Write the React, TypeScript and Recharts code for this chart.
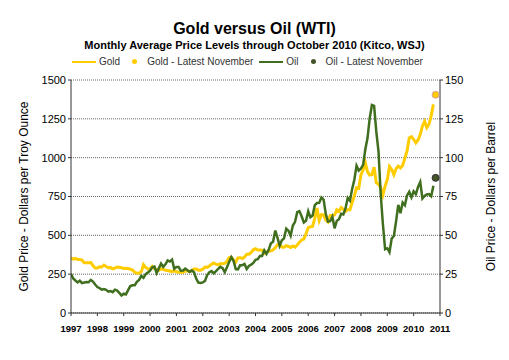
import React from "react";
import {
  ComposedChart,
  Line,
  Scatter,
  XAxis,
  YAxis,
  CartesianGrid,
} from "recharts";

// Monthly averages, Jan 1997 .. Oct 2010
const goldPrices = [
  355, 347, 352, 344, 344, 341, 324, 324, 323, 325, 306, 289,
  289, 297, 296, 308, 299, 292, 293, 284, 289, 296, 294, 291,
  287, 288, 286, 282, 277, 262, 256, 257, 265, 311, 293, 283,
  285, 300, 286, 280, 275, 285, 282, 275, 273, 270, 266, 272,
  265, 262, 263, 261, 272, 270, 268, 273, 283, 283, 276, 276,
  282, 296, 294, 302, 314, 322, 314, 310, 319, 317, 319, 333,
  357, 359, 340, 328, 355, 356, 351, 360, 379, 379, 389, 407,
  414, 405, 406, 404, 383, 392, 398, 400, 406, 420, 439, 442,
  424, 423, 434, 429, 422, 431, 424, 438, 456, 470, 476, 510,
  549, 555, 557, 610, 676, 596, 633, 632, 598, 586, 628, 629,
  631, 665, 655, 679, 667, 655, 665, 665, 712, 754, 806, 803,
  889, 922, 968, 909, 888, 890, 939, 839, 829, 806, 760, 816,
  858, 943, 924, 890, 928, 946, 934, 949, 996, 1043, 1127, 1135,
  1118, 1095, 1114, 1149, 1204, 1233, 1193, 1215, 1271, 1343,
];

const oilPrices = [
  25.2, 22.2, 20.9, 19.7, 20.8, 19.2, 19.6, 19.9, 19.8, 21.3, 20.2, 18.3,
  16.7, 16.1, 15.0, 15.4, 14.9, 13.7, 14.1, 13.4, 15.0, 14.4, 12.9, 11.3,
  12.5, 12.0, 14.7, 17.3, 17.8, 17.9, 20.1, 21.3, 23.9, 22.6, 25.0, 26.1,
  27.2, 29.4, 29.9, 25.7, 28.8, 31.8, 29.7, 31.3, 33.9, 33.1, 34.4, 28.5,
  29.6, 29.6, 27.2, 27.4, 28.6, 27.6, 26.4, 27.4, 26.2, 22.2, 19.6, 19.3,
  19.7, 20.7, 24.4, 26.3, 27.0, 25.5, 26.9, 28.4, 29.7, 28.9, 26.3, 29.4,
  32.9, 35.9, 33.6, 28.3, 28.1, 30.7, 30.8, 31.6, 28.3, 30.3, 31.1, 32.2,
  34.3, 34.7, 36.7, 36.7, 40.3, 38.0, 40.7, 44.9, 45.9, 53.1, 48.5, 43.3,
  46.8, 48.0, 54.3, 53.0, 49.8, 56.3, 58.7, 64.9, 65.6, 62.3, 58.3, 59.4,
  65.5, 61.6, 62.7, 69.4, 70.8, 70.9, 74.4, 73.0, 63.8, 58.9, 59.1, 62.0,
  54.5, 59.3, 60.4, 63.9, 63.4, 67.5, 74.1, 72.4, 79.9, 85.8, 94.8, 91.7,
  93.0, 95.4, 105.4, 112.6, 125.4, 133.9, 133.4, 116.7, 104.1, 76.6, 57.3, 41.1,
  41.7, 39.1, 47.9, 49.6, 59.0, 69.6, 64.2, 71.1, 69.4, 75.7, 78.0, 74.5,
  78.3, 76.4, 81.2, 84.3, 73.7, 75.3, 76.3, 76.6, 75.2, 81.9,
];

const goldNovember = 1405;
const oilNovember = 87;
const novemberX = 2010 + 10 / 12;

const yearTicks = [
  1997, 1998, 1999, 2000, 2001, 2002, 2003, 2004, 2005, 2006, 2007, 2008,
  2009, 2010, 2011,
];
const goldTicks = [0, 250, 500, 750, 1000, 1250, 1500];
const oilTicks = [0, 25, 50, 75, 100, 125, 150];

const GOLD = "#FFCC00";
const OIL = "#3F6E1E";

const chartData = goldPrices.map((g, i) => ({
  x: 1997 + i / 12,
  gold: g,
  oil: oilPrices[i],
}));

const font = "Arial, 'Liberation Sans', sans-serif";

function LegendItem({ kind, color, label }: { kind: string; color: string; label: string }) {
  return (
    <div style={{ display: "flex", alignItems: "center", marginRight: 6 }}>
      {kind === "line" ? (
        <span style={{ display: "inline-block", width: 24, height: 2, background: color, marginRight: 3 }} />
      ) : (
        <span
          style={{
            display: "inline-block",
            width: 5,
            height: 5,
            borderRadius: 3,
            background: color,
            marginLeft: 6,
            marginRight: 10,
          }}
        />
      )}
      <span>{label}</span>
    </div>
  );
}

export default function App() {
  return (
    <div style={{ position: "absolute", left: 0, top: 0, width: 509, height: 360, background: "#fff", fontFamily: font }}>
      <div style={{ position: "absolute", left: 0, top: 20, width: 509, textAlign: "center", fontSize: 16, fontWeight: "bold", color: "#000" }}>
        Gold versus Oil (WTI)
      </div>
      <div style={{ position: "absolute", left: 0, top: 39, width: 509, textAlign: "center", fontSize: 11, fontWeight: "bold", color: "#000" }}>
        Monthly Average Price Levels through October 2010 (Kitco, WSJ)
      </div>
      <div
        style={{
          position: "absolute",
          left: 72,
          top: 56,
          display: "flex",
          fontSize: 10,
          color: "#333",
        }}
      >
        <LegendItem kind="line" color={GOLD} label="Gold" />
        <LegendItem kind="dot" color={GOLD} label="Gold - Latest November" />
        <LegendItem kind="line" color={OIL} label="Oil" />
        <LegendItem kind="dot" color="#44552A" label="Oil - Latest November" />
      </div>
      <ComposedChart
        width={509}
        height={360}
        data={chartData}
        margin={{ top: 80, right: 30, left: 30, bottom: 27 }}
      >
        <CartesianGrid
          yAxisId="gold"
          horizontal
          vertical={false}
          stroke="#666"
          strokeDasharray="1 1"
        />
        <XAxis
          dataKey="x"
          type="number"
          domain={[1997, 2011]}
          ticks={yearTicks}
          interval={0}
          allowDataOverflow
          height={20}
          stroke="#333"
          tickSize={3}
          tick={{ fontSize: 9.5, fontWeight: "bold", fill: "#000", fontFamily: font }}
          tickMargin={9}
        />
        <YAxis
          yAxisId="gold"
          orientation="left"
          domain={[0, 1500]}
          ticks={goldTicks}
          width={41}
          stroke="#333"
          tickSize={3}
          tick={{ fontSize: 11, fill: "#000", fontFamily: font }}
          label={{
            value: "Gold Price - Dollars per Troy Ounce",
            angle: -90,
            position: "insideLeft",
            offset: -6,
            style: { textAnchor: "middle", fontSize: 12, fill: "#000", fontFamily: font },
          }}
        />
        <YAxis
          yAxisId="oil"
          orientation="right"
          domain={[0, 150]}
          ticks={oilTicks}
          width={39}
          stroke="#333"
          tickSize={3}
          tick={{ fontSize: 11, fill: "#000", fontFamily: font }}
          label={{
            value: "Oil Price - Dollars per Barrel",
            angle: -90,
            position: "insideRight",
            offset: -12,
            style: { textAnchor: "middle", fontSize: 12, fill: "#000", fontFamily: font },
          }}
        />
        <Line
          yAxisId="gold"
          dataKey="gold"
          stroke={GOLD}
          strokeWidth={3}
          dot={false}
          type="linear"
          isAnimationActive={false}
        />
        <Line
          yAxisId="oil"
          dataKey="oil"
          stroke={OIL}
          strokeWidth={2.5}
          dot={false}
          type="linear"
          isAnimationActive={false}
        />
        <Scatter
          yAxisId="gold"
          data={[{ x: novemberX, gold: goldNovember }]}
          dataKey="gold"
          fill={GOLD}
          shape={(p: any) => <circle cx={p.cx} cy={p.cy} r={3.5} fill={GOLD} stroke="#D8A0A0" strokeWidth={1} />}
          isAnimationActive={false}
        />
        <Scatter
          yAxisId="oil"
          data={[{ x: novemberX, oil: oilNovember }]}
          dataKey="oil"
          fill="#44552A"
          shape={(p: any) => <circle cx={p.cx} cy={p.cy} r={3.5} fill="#44552A" stroke="#333" strokeWidth={1} />}
          isAnimationActive={false}
        />
      </ComposedChart>
    </div>
  );
}
